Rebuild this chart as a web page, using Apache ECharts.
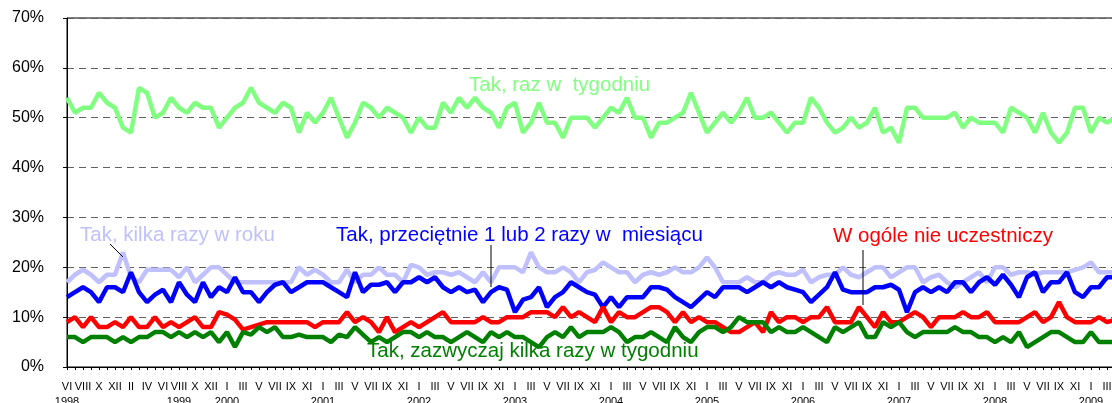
<!DOCTYPE html>
<html>
<head>
<meta charset="utf-8">
<script src="https://cdn.jsdelivr.net/npm/echarts@6/dist/echarts.min.js"></script>
<style>
html,body{margin:0;padding:0;background:#fff;}
#chart{width:1112px;height:403px;}
</style>
</head>
<body>
<div id="chart"></div>
<script>
// Month tick labels (one entry per survey point; blank = not labelled)
const monthTicks = [
 'VI','','VIII','','X','','XII','','II','','IV','','VI','','VIII','','X','','XII','',
 'I','','III','','V','','VII','','IX','','XI','',
 'I','','III','','V','','VII','','IX','','XI','',
 'I','','III','','V','','VII','','IX','','XI','',
 'I','','III','','V','','VII','','IX','','XI','',
 'I','','III','','V','','VII','','IX','','XI','',
 'I','','III','','V','','VII','','IX','','XI','',
 'I','','III','','V','','VII','','IX','','XI','',
 'I','','III','','V','','VII','','IX','','XI','',
 'I','','III','','V','','VII','','IX','','XI','',
 'I','','III',''
];
// Year labels: [category index, year]
const yearTicks = [[0,'1998'],[14,'1999'],[20,'2000'],[32,'2001'],[44,'2002'],[56,'2003'],
  [68,'2004'],[80,'2005'],[92,'2006'],[104,'2007'],[116,'2008'],[128,'2009']];

const seriesNames = [
 'Tak, kilka razy w roku',
 'Tak, raz w  tygodniu',
 'Tak, przeciętnie 1 lub 2 razy w  miesiącu',
 'W ogóle nie uczestniczy',
 'Tak, zazwyczaj kilka razy w tygodniu'
];

const razWTygodniu = [
 54,51,52,52,55,53,52,48,47,56,
 55,50,51,54,52,51,53,52,52,48,
 50,52,53,56,53,52,51,53,52,47,
 51,49,51,54,50,46,49,53,52,50,
 52,51,50,47,
 50,48,48,53,51,54,52,54,52,51,
 48,52,53,47,49,53,49,49,46,50,
 50,50,48,50,52,51,54,50,50,46,
 49,49,50,51,55,51,47,49,51,49,51,54,50,
 50,51,49,47,49,49,54,52,49,47,
 48,50,48,49,52,47,48,45,52,52,
 50,50,50,50,51,48,50,49,49,49,
 47,52,51,50,47,51,47,45,47,52,
 52,47,50,49,50
];
const kilkaRazyWRoku = [
 17,18.5,19.5,18.5,17,18.5,18.5,23,18,17,
 19.5,19.5,19.5,19.5,18,20,17,18.5,20,20,
 18.5,17,17,17,17,17,17,17,17,20,
 18.5,19.5,18.5,17,17,19.5,17,18.5,18.5,20,
 18.5,18.5,17,
 20.5,20,18.5,19,19,18.5,19,18,17,19,
 17,20,20,20,19,23,20,19,19,20,
 19,17,19,19.5,21,20,19,19,17,18.5,
 19,18.5,19,20,19,19,20,22,20,17,17,17,18,17,
 17,18.5,19,18.5,18.5,19.5,17,18,18.5,18.5,
 20,18.5,18,19,20,20,18,19,20,20,
 17,18,18.5,17,16,17,18,19,17,20,
 20,18.5,19,19,18.5,19,19,19,19,19.5,
 20,21,19,19,19
];
const wMiesiacu = [
 14,15,16,15,13,16,16,15,19,15,
 13,14.5,15.5,13,17,14.5,13,17,14,16,
 15,18,15,15,13,15,16.5,17,15,16,
 17,17,17,16,15,14,19,15,16.5,16.5,
 17,15,17,
 17,18,17,18,16,15,16,15,15.5,13,
 15,16,15.5,11,13.5,14,16,12,14,15,
 17,16,15,14.5,12,14,12,14,14,14,
 16,16,15.5,14,13,12,13.5,15,14,16,16,16,15,16,
 17,16,17,16,15.5,15,13,14.5,16,19,
 15.5,15,15,15,16,16,16.5,15.5,11,15,
 16,15,16,15,17,17,15,17,18,16.5,
 18.5,16.5,14,18,19,15,17,17,19,15,
 14,16,16,18,18
];
const nieUczestniczy = [
 9,10,8,10,8,8,9,8,10,8,
 8,10,8,9,8,9,10,8,8,11,
 10.5,9.5,7.5,8,8.5,9,9,9,9,9,
 9,8,9,9,9,11,9,10,9,7,
 10,7,8,
 9,8,9,10,11,9,9,9,9,10,
 9,9,10,10,10,11,11,11,10,12,
 10,11,10,9,12,9,11,10,10,11,
 12,12,11,9,11,9,10,9,9,8,7,7,8,9,
 7,11,9,10,10,9,10,10,12,9,
 9,9,12,10,8,11,9,9,10,11,
 10,8,10,10,10,11,10,10,11,9,
 9,9,9,10,11,9,10,13,10,9,
 9,9,10,9,9.5
];
const kilkaRazyWTygodniu = [
 6,6,5,6,6,6,5,6,5,6,
 6,7,7,6,7,6,7,6,7,5,
 7,4,7,6.5,8,7,8,6,6,6.5,
 6,6,6,5,6.5,6,8,6.5,5,6,
 5,6,7,
 7,6,7,6,6,5,6,7,6,5,
 7,6,7,6,6,5,4,6,7,6,
 8,6,7,7,7,8,7,5,6,6,
 7,6,5,8,6,5,7,8,8,7,8,10,9,9,
 9,7,8,7,7,8,7,6,5,8,
 7,8,9,6,6,9,8,9,7,6,
 7,7,7,7,8,7,7,6,6,5,
 6,5,7,4,5,6,7,7,6,5,
 5,7,5,5,5
];
const yTicks = [0,10,20,30,40,50,60,70];

const colors = ['#C0C0FF','#80FF80','#0000FF','#FF0000','#008000'];
const dataSets = [kilkaRazyWRoku, razWTygodniu, wMiesiacu, nieUczestniczy, kilkaRazyWTygodniu];

const yearMap = {};
yearTicks.forEach(([i,y]) => yearMap[i] = y);
const categories = monthTicks.map((m,i) => String(i));

const FONT = "'Liberation Sans', Arial, sans-serif";
const chart = echarts.init(document.getElementById('chart'), null, {renderer:'canvas'});
chart.setOption({
  animation:false,
  backgroundColor:'#fff',
  grid:{left:67, top:18, right:-3, bottom:36, containLabel:false, outerBoundsMode:'none',
        show:true, borderColor:'#000', borderWidth:1, backgroundColor:'transparent'},
  xAxis:{
    type:'category', data:categories, boundaryGap:false,
    axisLine:{show:true, lineStyle:{color:'#000', width:1}},
    axisTick:{show:true, interval:0, length:3, lineStyle:{color:'#000'}},
    axisLabel:{
      interval:0, margin:12, color:'#000', fontFamily:FONT, fontSize:11, lineHeight:15,
      formatter:(v, i) => {
        const m = monthTicks[i] || '';
        const y = yearMap[i];
        return y ? (m + '\n' + y) : m;
      }
    },
    splitLine:{show:false}
  },
  yAxis:{
    type:'value', min:yTicks[0], max:yTicks[yTicks.length-1], interval:10,
    axisLine:{show:true, lineStyle:{color:'#000', width:1}},
    axisTick:{show:true, length:4, lineStyle:{color:'#000'}},
    axisLabel:{formatter:'{value}%', color:'#000', fontFamily:FONT, fontSize:16, margin:23},
    splitLine:{show:true, lineStyle:{color:'#606060', type:[7,5], width:1}}
  },
  series: dataSets.map((d, k) => ({
    name:seriesNames[k], type:'line', data:d, symbol:'none', showSymbol:false,
    lineStyle:{color:colors[k], width:4.5}, itemStyle:{color:colors[k]}, z:2+k
  })),
  graphic:[
    {type:'text', z:100, style:{text:seriesNames[1], x:469, y:85, fill:colors[1], font:'20.5px ' + FONT, textVerticalAlign:'middle'}},
    {type:'text', z:100, style:{text:seriesNames[0], x:80, y:235, fill:colors[0], font:'20.5px ' + FONT, textVerticalAlign:'middle'}},
    {type:'text', z:100, style:{text:seriesNames[2], x:336, y:235, fill:colors[2], font:'20.5px ' + FONT, textVerticalAlign:'middle'}},
    {type:'text', z:100, style:{text:seriesNames[3], x:833, y:236, fill:colors[3], font:'20.5px ' + FONT, textVerticalAlign:'middle'}},
    {type:'text', z:100, style:{text:seriesNames[4], x:367, y:351, fill:colors[4], font:'20.5px ' + FONT, textVerticalAlign:'middle'}},
    {type:'line', z:100, shape:{x1:110, y1:244, x2:123, y2:257}, style:{stroke:'#000', lineWidth:1}},
    {type:'line', z:100, shape:{x1:491, y1:245, x2:491, y2:287}, style:{stroke:'#000', lineWidth:1}},
    {type:'line', z:100, shape:{x1:863, y1:250, x2:863, y2:305}, style:{stroke:'#000', lineWidth:1}}
  ]
});
</script>
</body>
</html>
